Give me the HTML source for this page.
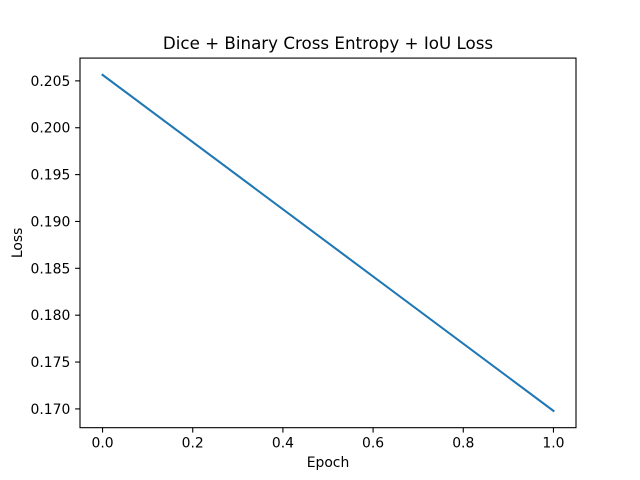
<!DOCTYPE html>
<html><head><meta charset="utf-8"><style>
html,body{margin:0;padding:0;background:#fff;}
svg{display:block;font-family:"DejaVu Sans","Liberation Sans",sans-serif;}
</style></head><body>
<svg id="chart" width="640" height="480"></svg>
<script>
const epochs = [0, 1];
const losses = [0.20564, 0.16979];
const xTicks = [0.0, 0.2, 0.4, 0.6, 0.8, 1.0];
const yTicks = [0.170, 0.175, 0.180, 0.185, 0.190, 0.195, 0.200, 0.205];

const svg = document.getElementById('chart');
const NS = 'http://www.w3.org/2000/svg';
const L = 80, R = 576, T = 58.08, B = 427.68;
const xmin0 = Math.min(...epochs), xmax0 = Math.max(...epochs);
const ymin0 = Math.min(...losses), ymax0 = Math.max(...losses);
const xm = (xmax0 - xmin0) * 0.05, ym = (ymax0 - ymin0) * 0.05;
const xmin = xmin0 - xm, xmax = xmax0 + xm, ymin = ymin0 - ym, ymax = ymax0 + ym;
const xs = v => L + (v - xmin) / (xmax - xmin) * (R - L);
const ys = v => B - (v - ymin) / (ymax - ymin) * (B - T);

function mk(tag, attrs, text) {
  const e = document.createElementNS(NS, tag);
  for (const k in attrs) e.setAttribute(k, attrs[k]);
  if (text !== undefined) e.textContent = text;
  svg.appendChild(e);
  return e;
}

let el = mk('rect', {x: L, y: T, width: R - L, height: B - T, fill: 'none', stroke: '#000', 'stroke-width': 1.1});



xTicks.forEach(t => {
  const x = xs(t);
  let tk = mk('line', {x1: x, x2: x, y1: B, y2: B + 4.9, stroke: '#000', 'stroke-width': 1.1});
  
  
  let lb = mk('text', {x: x, y: B + 20, 'font-size': 13.9, 'text-anchor': 'middle', fill: '#000'}, t.toFixed(1));
  
  
});
yTicks.forEach(t => {
  const y = ys(t);
  let tk = mk('line', {x1: L - 4.9, x2: L, y1: y, y2: y, stroke: '#000', 'stroke-width': 1.1});
  
  
  let lb = mk('text', {x: L - 9.7, y: y + 5, 'font-size': 13.9, 'text-anchor': 'end', fill: '#000'}, t.toFixed(3));
  
  
});

const pts = epochs.map((e, i) => xs(e) + ',' + ys(losses[i])).join(' ');
let line = mk('polyline', {points: pts, fill: 'none', stroke: '#1f77b4', 'stroke-width': 2.08, 'stroke-linecap': 'square'});



let title = mk('text', {x: (L + R) / 2, y: 49, 'font-size': 16.7, 'text-anchor': 'middle', fill: '#000'}, 'Dice + Binary Cross Entropy + IoU Loss');


let xt = mk('text', {x: (L + R) / 2, y: 467, 'font-size': 13.9, 'text-anchor': 'middle', fill: '#000'}, 'Epoch');


let yt = mk('text', {x: 0, y: 0, 'font-size': 13.9, 'text-anchor': 'middle', fill: '#000', transform: 'translate(22,' + ((T + B) / 2) + ') rotate(-90)'}, 'Loss');


</script>
</body></html>
